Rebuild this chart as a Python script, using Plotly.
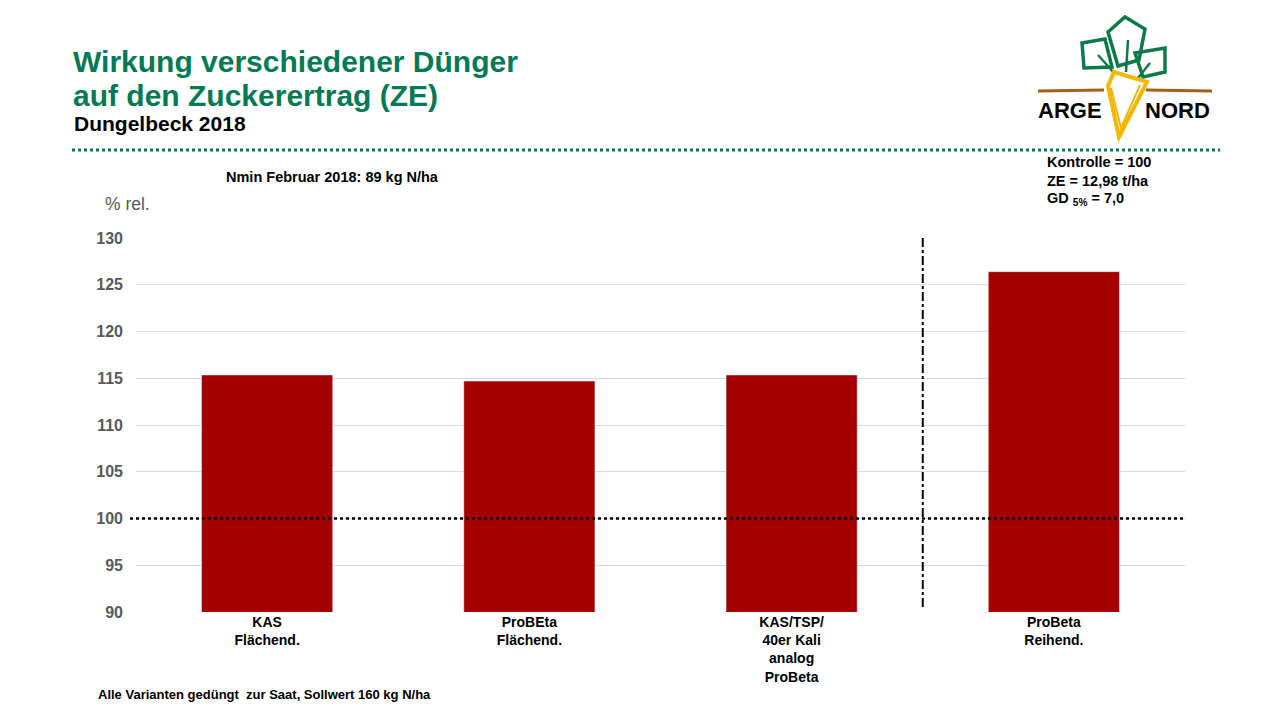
import plotly.graph_objects as go

# data (relative sugar yield, Kontrolle = 100)
varianten = ["KAS<br>Flächend.", "ProBEta<br>Flächend.",
             "KAS/TSP/<br>40er Kali<br>analog<br>ProBeta", "ProBeta<br>Reihend."]
ze_rel = [115.35, 114.7, 115.35, 126.4]
kontrolle = 100
y_ticks = [90, 95, 100, 105, 110, 115, 120, 125, 130]

GREEN = "#007A55"
RED = "#A50000"
FONT = "Liberation Sans, Arial, sans-serif"

# page is drawn with an 8px body margin, so figure = page - 8
OFF = 8
W, H = 1280 - 2 * OFF, 720 - 2 * OFF
# plot area in page pixels
L, R, T, B = 136, 1185, 238, 612


def px(x):
    return (x - L) / (R - L)


def py(y):
    return (B - y) / (B - T)


fig = go.Figure()
fig.add_trace(go.Bar(x=varianten, y=ze_rel, marker_color=RED, width=0.5))

fig.update_layout(
    width=W, height=H,
    margin=dict(l=L - OFF, r=W - (R - OFF), t=T - OFF, b=H - (B - OFF)),
    plot_bgcolor="white", paper_bgcolor="white",
    showlegend=False,
    font=dict(family=FONT),
    xaxis=dict(showgrid=False, showline=False, ticks="",
               tickfont=dict(size=14, color="black", weight="bold")),
    yaxis=dict(range=[90, 130], tickvals=y_ticks, showgrid=True,
               gridcolor="#d9d9d9", gridwidth=1, zeroline=False,
               tickfont=dict(size=16, color="#595959", weight="bold"),
               ticklabelstandoff=12),
)

shapes = []
# Kontrolle line
shapes.append(dict(type="line", xref="paper", yref="y", x0=px(130), x1=1.0,
                   y0=kontrolle, y1=kontrolle,
                   line=dict(color="black", width=2.5, dash="dot")))
# separator between variants
shapes.append(dict(type="line", xref="x", yref="paper", x0=2.5, x1=2.5,
                   y0=py(607), y1=1.0,
                   line=dict(color="black", width=2, dash="dashdot")))
# green dotted header line
shapes.append(dict(type="line", xref="paper", yref="paper", x0=px(72), x1=px(1220),
                   y0=py(150), y1=py(150),
                   line=dict(color=GREEN, width=3, dash="dot")))


# logo drawing
def path(points, closed=True):
    s = "M " + " L ".join(f"{px(x):.5f},{py(y):.5f}" for x, y in points)
    return s + (" Z" if closed else "")


BROWN = "#A0601A"
LEAF = "#0E7A4A"
CARROT = "#F2B800"
for seg in ([(1038, 91), (1104, 90)], [(1146, 90), (1212, 91)]):
    shapes.append(dict(type="path", xref="paper", yref="paper",
                       path=path(seg, False), line=dict(color=BROWN, width=3)))
leaves = [
    [(1082, 43), (1105, 39), (1112, 67), (1084, 68)],
    [(1108, 32), (1125, 17), (1145, 29), (1139, 60), (1118, 66)],
    [(1135, 53), (1165, 48), (1165, 72), (1143, 77)],
]
for lf in leaves:
    shapes.append(dict(type="path", xref="paper", yref="paper", path=path(lf),
                       line=dict(color=LEAF, width=3.5)))
for st in ([(1098, 55), (1115, 74)], [(1128, 40), (1126, 72)], [(1150, 63), (1138, 78)]):
    shapes.append(dict(type="path", xref="paper", yref="paper", path=path(st, False),
                       line=dict(color=LEAF, width=2.5)))
shapes.append(dict(type="path", xref="paper", yref="paper",
                   path=path([(1108, 86), (1114, 72), (1147, 82), (1119, 137)]),
                   line=dict(color=CARROT, width=4)))
shapes.append(dict(type="path", xref="paper", yref="paper",
                   path=path([(1111, 88), (1121, 128), (1140, 85)], False),
                   line=dict(color=CARROT, width=2)))
fig.update_layout(shapes=shapes)


def note(x, y, text, size, color="black", bold=True, anchor="left"):
    fig.add_annotation(xref="paper", yref="paper", x=px(x), y=py(y), text=text,
                       showarrow=False, xanchor=anchor, yanchor="middle",
                       font=dict(family=FONT, size=size, color=color,
                                 weight="bold" if bold else "normal"))


note(71, 62, "Wirkung verschiedener Dünger", 30, GREEN)
note(71, 95, "auf den Zuckerertrag (ZE)", 30, GREEN)
note(72, 123, "Dungelbeck 2018", 21)
note(224, 177, "Nmin Februar 2018: 89 kg N/ha", 14.5)
note(103, 204, "% rel.", 17.5, "#595959", bold=False)
note(1045, 162, "Kontrolle = 100", 14.5)
note(1045, 181, "ZE = 12,98 t/ha", 14.5)
note(1045, 199, "GD <sub>5%</sub> = 7,0", 14.5)
note(96, 694, "Alle Varianten gedüngt  zur Saat, Sollwert 160 kg N/ha", 13)
note(1036, 110, "ARGE", 22)
note(1143, 110, "NORD", 22)

fig.write_html("out.html")
